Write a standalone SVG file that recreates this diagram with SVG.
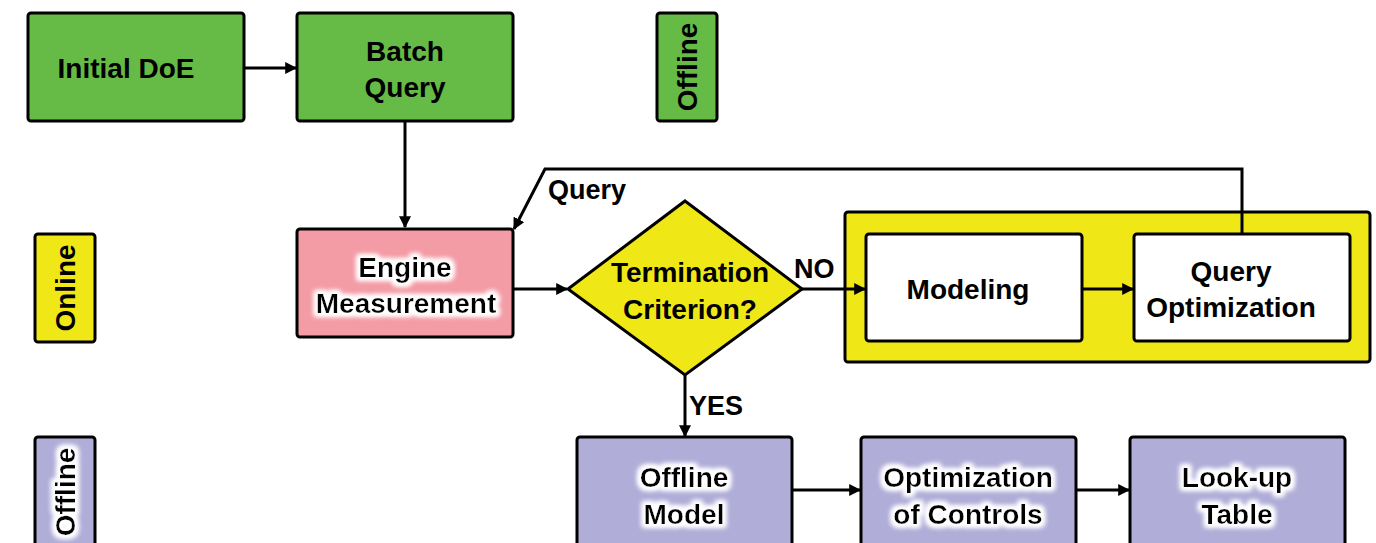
<svg xmlns="http://www.w3.org/2000/svg" width="1376" height="543" viewBox="0 0 1376 543">
<defs>
<style>
.box{stroke:#000;stroke-width:3}
.green{fill:#66bb46}
.pink{fill:#f39ca6}
.yellow{fill:#f0e816}
.white{fill:#fff}
.lav{fill:#b0aed8}
text{font-family:"Liberation Sans",Arial,sans-serif;font-weight:bold;font-size:28px;fill:#000;text-anchor:middle}
.lbl{text-anchor:start;font-size:27px}
.conn{fill:none;stroke:#000;stroke-width:3}
.glow{filter:url(#glow)}
</style>
<marker id="ah" viewBox="0 0 10 10" refX="9" refY="5" markerWidth="4" markerHeight="4" orient="auto" markerUnits="strokeWidth">
<path d="M0,0 L10,5 L0,10 z" fill="#000"/>
</marker>
<filter id="glow" x="-20%" y="-40%" width="140%" height="180%">
<feMorphology in="SourceAlpha" operator="dilate" radius="2.5" result="d"/>
<feGaussianBlur in="d" stdDeviation="2.5" result="b"/>
<feFlood flood-color="#fff"/>
<feComposite in2="b" operator="in" result="w"/>
<feMerge><feMergeNode in="w"/><feMergeNode in="w"/><feMergeNode in="SourceGraphic"/></feMerge>
</filter>
</defs>
<g id="initial-doe">
<rect class="box green" x="28" y="13" width="216" height="108" rx="3"/>
<text x="126" y="78">Initial DoE</text>
</g>
<g id="batch-query">
<rect class="box green" x="297" y="13" width="216" height="108" rx="3"/>
<text x="405" y="61">Batch</text>
<text x="405" y="97">Query</text>
</g>
<g id="offline-label-top">
<rect class="box green" x="657" y="13" width="60" height="108" rx="3"/>
<text transform="translate(697,67) rotate(-90)">Offline</text>
</g>
<g id="online-label">
<rect class="box yellow" x="35" y="234" width="60" height="108" rx="3"/>
<text transform="translate(75,288) rotate(-90)">Online</text>
</g>
<g id="offline-label-bottom">
<rect class="box lav" x="35" y="437" width="60" height="120" rx="3"/>
<text class="glow" transform="translate(75,492) rotate(-90)">Offline</text>
</g>
<g id="engine-measurement">
<rect class="box pink" x="297" y="229" width="216" height="108" rx="3"/>
<text class="glow" x="405" y="277">Engine</text>
<text class="glow" x="406" y="313">Measurement</text>
</g>
<g id="termination-criterion">
<polygon class="box yellow" points="685,201 802,289 685,375 568,289"/>
<text x="690" y="282">Termination</text>
<text x="690" y="319">Criterion?</text>
</g>
<g id="online-loop">
<rect class="box yellow" x="845" y="212" width="525" height="150" rx="3"/>
</g>
<g id="modeling">
<rect class="box white" x="866" y="234" width="216" height="107" rx="3"/>
<text x="968" y="299">Modeling</text>
</g>
<g id="query-optimization">
<rect class="box white" x="1134" y="234" width="216" height="107" rx="3"/>
<text x="1231" y="281">Query</text>
<text x="1231" y="317">Optimization</text>
</g>
<g id="offline-model">
<rect class="box lav" x="577" y="437" width="215" height="120" rx="3"/>
<text class="glow" x="684" y="487">Offline</text>
<text class="glow" x="684" y="524">Model</text>
</g>
<g id="optimization-of-controls">
<rect class="box lav" x="861" y="437" width="215" height="120" rx="3"/>
<text class="glow" x="968" y="487">Optimization</text>
<text class="glow" x="968" y="524">of Controls</text>
</g>
<g id="look-up-table">
<rect class="box lav" x="1130" y="437" width="215" height="120" rx="3"/>
<text class="glow" x="1237" y="487">Look-up</text>
<text class="glow" x="1237" y="524">Table</text>
</g>
<g id="connectors">
<line class="conn" x1="244" y1="68" x2="296" y2="68" marker-end="url(#ah)"/>
<line class="conn" x1="405" y1="122" x2="405" y2="227" marker-end="url(#ah)"/>
<line class="conn" x1="513" y1="289" x2="567" y2="289" marker-end="url(#ah)"/>
<line class="conn" x1="802" y1="289" x2="865" y2="289" marker-end="url(#ah)"/>
<line class="conn" x1="1082" y1="289" x2="1133" y2="289" marker-end="url(#ah)"/>
<polyline class="conn" points="1242,234 1242,169 545,169 514,229" marker-end="url(#ah)"/>
<line class="conn" x1="685" y1="375" x2="685" y2="436" marker-end="url(#ah)"/>
<line class="conn" x1="792" y1="490" x2="860" y2="490" marker-end="url(#ah)"/>
<line class="conn" x1="1076" y1="490" x2="1129" y2="490" marker-end="url(#ah)"/>
<text class="lbl" x="548" y="199">Query</text>
<text class="lbl" x="794" y="278">NO</text>
<text class="lbl" x="689" y="415">YES</text>
</g>
</svg>
